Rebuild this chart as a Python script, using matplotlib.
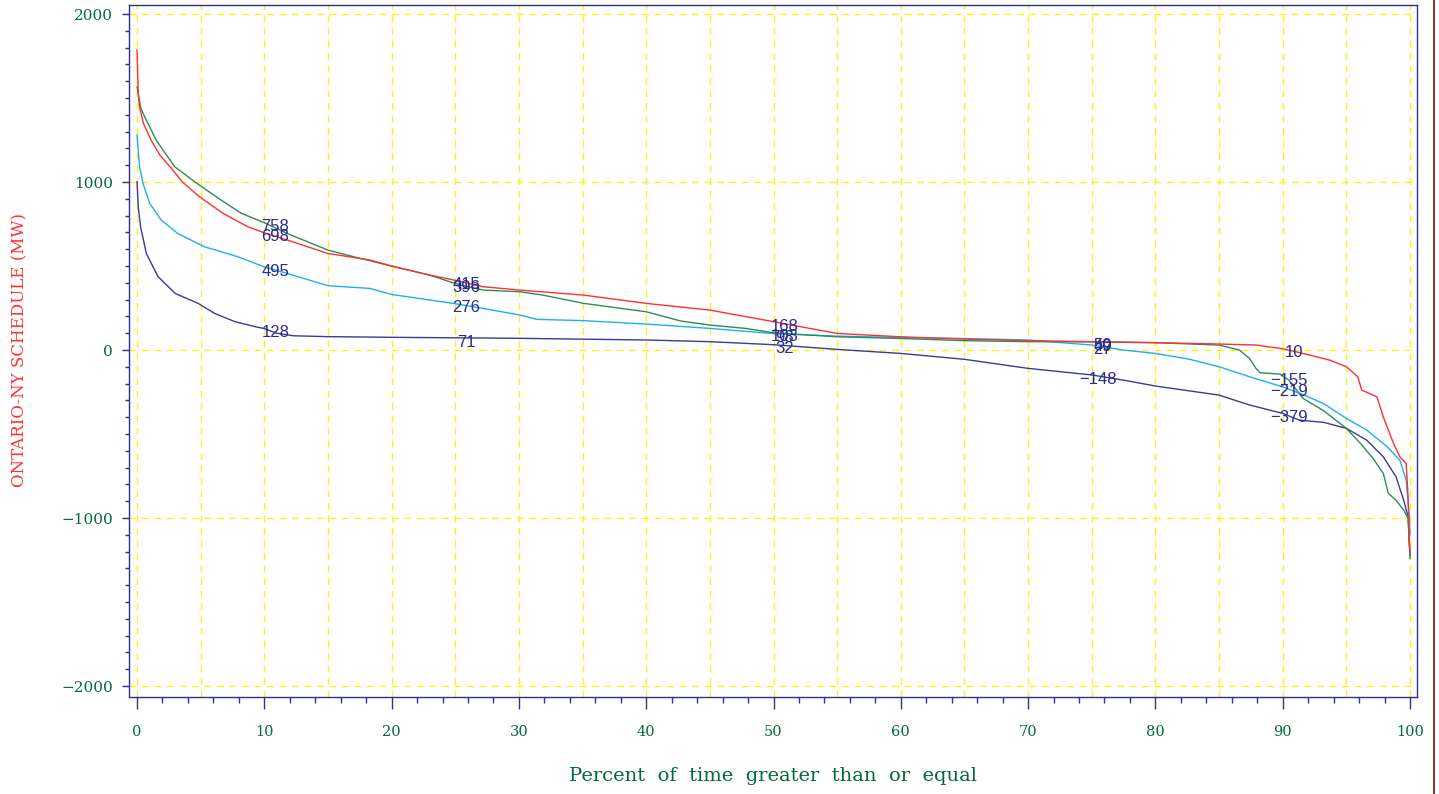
import matplotlib
matplotlib.use("Agg")
import matplotlib.pyplot as plt
from matplotlib.ticker import MultipleLocator, FuncFormatter
from matplotlib.lines import Line2D

# ---------------- data ----------------
red_x = [0, 0.1, 0.2, 0.5, 1.1, 1.8, 2.6, 3.6, 4.9, 6.75, 8.7, 10, 11.8, 15, 18.3, 20, 23, 25,
         27.2, 30.1, 35.1, 40, 45, 50, 55, 60, 65, 70, 75, 80, 85, 87.9, 90, 91.6, 93.7, 95,
         95.9, 96.2, 97.4, 97.9, 98.7, 99.2, 99.7, 99.85, 99.95, 100]
red_y = [1786, 1520, 1448, 1350, 1250, 1160, 1091, 998, 913, 814, 734, 698, 655, 575, 536, 500, 446, 415,
         377, 357, 327, 278, 238, 169, 99, 79, 65, 56, 50, 44, 36, 30, 8, -20, -60, -99,
         -159, -238, -278, -397, -555, -635, -675, -873, -1150, -1200]

green_x = [0, 0.3, 0.6, 1.5, 2.96, 4.6, 6.6, 8.2, 10, 11.8, 15, 17, 20, 23, 25, 27.2, 30.1, 31.9,
           35.1, 40, 42.7, 45, 47.8, 50, 55, 60, 65, 70, 75, 80, 85, 86.6, 87.4, 87.9, 88.2, 89.8,
           90, 90.5, 91.6, 93.2, 95, 96.1, 97.1, 97.9, 98.3, 98.9, 99.5, 99.85, 100]
green_y = [1567, 1440, 1389, 1250, 1091, 998, 893, 814, 758, 694, 595, 556, 500, 446, 396, 357, 347, 327,
           278, 228, 173, 149, 129, 103, 79, 69, 56, 50, 49, 44, 30, 0, -50, -109, -135, -143,
           -155, -179, -288, -360, -466, -555, -645, -734, -853, -893, -952, -1000, -1240]

cyan_x = [0, 0.2, 0.47, 1.0, 1.9, 3.2, 5.3, 7.9, 10, 11.8, 15, 18.3, 20, 23, 25, 27.2, 30.1, 31.4,
          35.1, 40, 45, 50, 55, 60, 65, 70, 75, 77.5, 80, 82.7, 85, 87.4, 90, 91.6, 93.2, 95,
          96.6, 98.2, 99.2, 99.7, 99.95, 100]
cyan_y = [1280, 1091, 992, 873, 774, 694, 615, 556, 495, 456, 383, 367, 331, 298, 276, 248, 208, 183,
          175, 155, 129, 98, 83, 75, 69, 60, 30, 0, -20, -55, -99, -159, -219, -265, -318, -407,
          -476, -575, -655, -774, -992, -1100]

navy_x = [0, 0.1, 0.28, 0.73, 1.65, 3.0, 4.8, 6.1, 7.7, 9.3, 10, 11, 12.3, 15, 20, 25, 30, 40, 45,
          50, 55, 60, 65, 70, 75, 77.5, 80, 85, 87.4, 90, 91.3, 93.2, 95, 96.6, 97.9, 98.9, 99.5,
          99.85, 100]
navy_y = [1002, 850, 734, 575, 437, 337, 278, 218, 169, 139, 128, 100, 85, 80, 76, 73, 70, 60, 50,
          32, 4, -20, -55, -109, -148, -179, -214, -268, -327, -377, -417, -430, -466, -536, -635, -754, -893,
          -992, -1220]

label_x = [10, 25, 50, 75, 90]
red_labels = [698, 415, 168, 50, 10]
green_labels = [758, 396, 103, 49, -155]
cyan_labels = [495, 276, 98, 27, -219]
navy_labels = [128, 71, 32, -148, -379]

x_ticks = list(range(0, 101, 10))
y_ticks = [-2000, -1000, 0, 1000, 2000]
x_label = "Percent  of  time  greater  than  or  equal"
y_label = "ONTARIO-NY SCHEDULE (MW)"

# ---------------- styling ----------------
RED = "#ff3030"
GREEN = "#2e8b57"
CYAN = "#1ab0f5"
NAVY = "#3a3a9a"
TXT_NAVY = "#2b2b8f"
TICK_GREEN = "#006b3c"
FRAME = "#2e2e90"
GRID = "#ffee22"

fig = plt.figure(figsize=(14.39, 7.94), dpi=100)
W, H = 1439, 794
ax = fig.add_axes([129 / W, 1 - 697 / H, (1417 - 129) / W, (697 - 5) / H])

ax.set_xlim(-0.63, 100.55)
ax.set_ylim(-2065, 2054)

for xs, ys, c in [(navy_x, navy_y, NAVY), (cyan_x, cyan_y, CYAN),
                  (green_x, green_y, GREEN), (red_x, red_y, RED)]:
    ax.plot(xs, ys, color=c, lw=1.0, zorder=3)

# grid
ax.xaxis.set_minor_locator(MultipleLocator(2))
ax.yaxis.set_minor_locator(MultipleLocator(100))
ax.set_xticks(x_ticks)
ax.set_yticks(y_ticks)
for gx in range(0, 101, 5):
    ax.axvline(gx, color=GRID, lw=1.0, ls=(0, (5, 4)), zorder=1)
for gy in y_ticks:
    ax.axhline(gy, color=GRID, lw=1.0, ls=(0, (5, 4)), zorder=1)

# ticks
ax.tick_params(axis="x", which="major", direction="out", length=8.6, width=1.0,
               color=FRAME, pad=11.5, labelsize=10.5, labelcolor=TICK_GREEN)
ax.tick_params(axis="x", which="minor", direction="out", length=4.3, width=1.0, color=FRAME)
ax.tick_params(axis="y", which="major", direction="out", length=5, width=1.0,
               color=FRAME, pad=6.5, labelsize=11, labelcolor=TICK_GREEN)
ax.tick_params(axis="y", which="minor", direction="out", length=3, width=1.0, color=FRAME)
ax.yaxis.set_major_formatter(FuncFormatter(lambda v, p: ("\u2212" if v < 0 else "") + "%d" % abs(v)))
for lab in ax.get_xticklabels() + ax.get_yticklabels():
    lab.set_fontfamily("DejaVu Serif")

for s in ax.spines.values():
    s.set_color(FRAME)
    s.set_linewidth(1.0)

# labels
fig.text(773 / W, 1 - 776 / H, x_label, ha="center", va="center",
         fontsize=14, color=TICK_GREEN, family="DejaVu Serif")
fig.text(20 / W, 1 - 350 / H, y_label, ha="center", va="center", rotation=90,
         fontsize=12, color=RED, family="DejaVu Serif")

# point labels
digit_w = 9.27  # px per digit at 12pt
for vals in [red_labels, green_labels, cyan_labels, navy_labels]:
    for xv, v in zip(label_x, vals):
        n = len(str(abs(v)))
        s = ("\u2212" if v < 0 else "") + str(abs(v))
        dx = (11 + n * digit_w / 2) / 1.389
        ax.annotate(s, (xv, v), xytext=(dx, -3), textcoords="offset points",
                    ha="right", va="center", fontsize=12, color=TXT_NAVY,
                    family="Liberation Sans", zorder=5)

# right border line of the figure
fig.add_artist(Line2D([1434 / W, 1434 / W], [0, 1], transform=fig.transFigure,
                      color="#7a3b3b", lw=1.5))

fig.savefig("out.png", dpi=100, facecolor="white")
